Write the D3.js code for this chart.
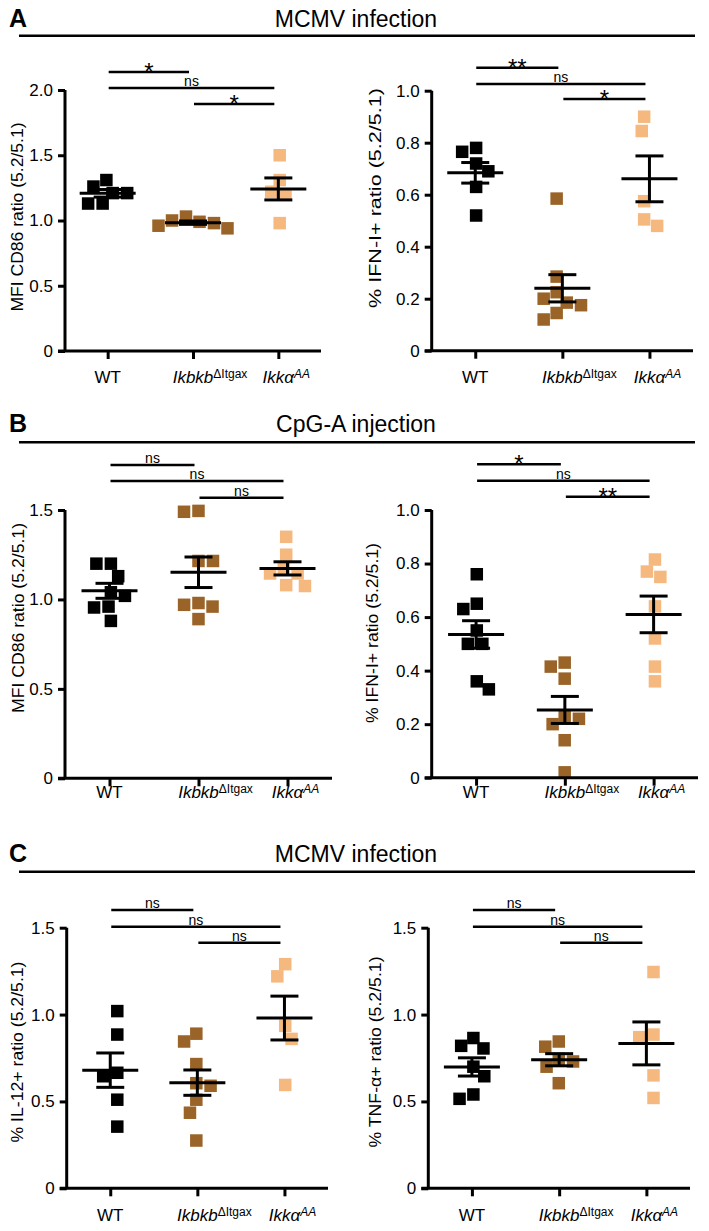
<!DOCTYPE html>
<html><head><meta charset="utf-8">
<script src="https://cdn.jsdelivr.net/npm/d3@7"></script>
<style>
body{margin:0;background:#fff}
svg{display:block}
text{font-family:"Liberation Sans",Arial,Helvetica,sans-serif;fill:#000}
</style>
</head><body>
<svg id="c" width="709" height="1231"></svg>
<script>
// ---------------- DATA ----------------
const groups = ["WT", "Ikbkb", "Ikka"];
const groupColors = ["#000000", "#9a6428", "#f5b97f"];

const ticks20 = [0, 0.5, 1.0, 1.5, 2.0];
const ticks10 = [0, 0.2, 0.4, 0.6, 0.8, 1.0];
const ticks15 = [0, 0.5, 1.0, 1.5];

const sectionLetters = ["A", "B", "C"];
const sectionTitles = ["MCMV infection", "CpG-A injection", "MCMV infection"];

const yLabelCD86 = "MFI CD86 ratio (5.2/5.1)";
const yLabelIFN = "% IFN-I+ ratio (5.2/5.1)";
const yLabelIL12 = "% IL-12+ ratio (5.2/5.1)";
const yLabelTNF = "% TNF-\u03B1+ ratio (5.2/5.1)";

// A: MCMV, CD86
const mcmvCD86_WT    = [1.31, 1.26, 1.21, 1.21, 1.13, 1.13];
const mcmvCD86_Ikbkb = [1.03, 1.00, 0.99, 0.98, 0.96, 0.94];
const mcmvCD86_Ikka  = [1.50, 1.31, 1.22, 1.20, 0.98];
const sigMcmvCD86 = ["*", "ns", "*"];
// A: MCMV, IFN-I
const mcmvIFN_WT    = [0.78, 0.765, 0.72, 0.69, 0.63, 0.52];
const mcmvIFN_Ikbkb = [0.585, 0.285, 0.225, 0.20, 0.185, 0.175, 0.145, 0.12];
const mcmvIFN_Ikka  = [0.90, 0.845, 0.575, 0.505, 0.48];
const sigMcmvIFN = ["**", "ns", "*"];
// B: CpG-A, CD86
const cpgCD86_WT    = [1.20, 1.20, 1.13, 1.04, 1.02, 0.96, 0.955, 0.88];
const cpgCD86_Ikbkb = [1.495, 1.49, 1.215, 1.215, 0.98, 0.97, 0.96, 0.89];
const cpgCD86_Ikka  = [1.35, 1.25, 1.17, 1.145, 1.145, 1.08, 1.075];
const sigCpgCD86 = ["ns", "ns", "ns"];
// B: CpG-A, IFN-I
const cpgIFN_WT    = [0.76, 0.65, 0.63, 0.55, 0.50, 0.50, 0.36, 0.33];
const cpgIFN_Ikbkb = [0.43, 0.415, 0.37, 0.23, 0.22, 0.20, 0.14, 0.02];
const cpgIFN_Ikka  = [0.815, 0.77, 0.75, 0.64, 0.52, 0.415, 0.36];
const sigCpgIFN = ["*", "ns", "**"];
// C: MCMV, IL-12
const mcmvIL12_WT    = [1.02, 0.885, 0.665, 0.645, 0.51, 0.355];
const mcmvIL12_Ikbkb = [0.89, 0.845, 0.715, 0.605, 0.59, 0.51, 0.435, 0.275];
const mcmvIL12_Ikka  = [1.29, 1.22, 0.935, 0.86, 0.595];
const sigMcmvIL12 = ["ns", "ns", "ns"];
// C: MCMV, TNF-a
const mcmvTNF_WT    = [0.865, 0.82, 0.805, 0.70, 0.645, 0.54, 0.515];
const mcmvTNF_Ikbkb = [0.845, 0.815, 0.745, 0.73, 0.70, 0.605];
const mcmvTNF_Ikka  = [1.245, 0.885, 0.87, 0.65, 0.52];
const sigMcmvTNF = ["ns", "ns", "ns"];

const sigPairs = [[0, 1], [0, 2], [1, 2]];

// ---------------- LAYOUT ----------------
const headerLayout = [
  {base: 27, line: 35.7},
  {base: 432, line: 442.3},
  {base: 862, line: 871.7}
];
const panelLayout = [
  {x0: 65,    x1: 321, yTop: 90,    yBot: 351,    labX: 17,  labY: 217,  labLen: 189, sigY: [72, 88, 104],        xLabDy: 32},
  {x0: 431.7, x1: 693, yTop: 90.7,  yBot: 350.7,  labX: 375, labY: 198,  labLen: 220, sigY: [67.7, 84, 99],        xLabDy: 32},
  {x0: 65,    x1: 332, yTop: 510,   yBot: 778.3,  labX: 18,  labY: 618,  labLen: 190, sigY: [465, 481, 497.7],     xLabDy: 20},
  {x0: 431.7, x1: 698, yTop: 510,   yBot: 777.7,  labX: 372, labY: 633,  labLen: 180, sigY: [464.3, 480.7, 496.7], xLabDy: 20},
  {x0: 66.7,  x1: 328, yTop: 927.7, yBot: 1188.3, labX: 17,  labY: 1052, labLen: 181, sigY: [910, 926.7, 942.7],   xLabDy: 33},
  {x0: 428.3, x1: 690, yTop: 927.7, yBot: 1188.3, labX: 375, labY: 1052, labLen: 191, sigY: [910, 926.7, 942.7],   xLabDy: 33}
];
const panelData = [
  {series: [mcmvCD86_WT, mcmvCD86_Ikbkb, mcmvCD86_Ikka], ticks: ticks20, label: yLabelCD86, sig: sigMcmvCD86},
  {series: [mcmvIFN_WT, mcmvIFN_Ikbkb, mcmvIFN_Ikka],    ticks: ticks10, label: yLabelIFN,  sig: sigMcmvIFN},
  {series: [cpgCD86_WT, cpgCD86_Ikbkb, cpgCD86_Ikka],    ticks: ticks15, label: yLabelCD86, sig: sigCpgCD86},
  {series: [cpgIFN_WT, cpgIFN_Ikbkb, cpgIFN_Ikka],       ticks: ticks10, label: yLabelIFN,  sig: sigCpgIFN},
  {series: [mcmvIL12_WT, mcmvIL12_Ikbkb, mcmvIL12_Ikka], ticks: ticks15, label: yLabelIL12, sig: sigMcmvIL12},
  {series: [mcmvTNF_WT, mcmvTNF_Ikbkb, mcmvTNF_Ikka],    ticks: ticks15, label: yLabelTNF,  sig: sigMcmvTNF}
];

const svg = d3.select("#c");
const MARK = 12.5;

// ---------------- HEADERS ----------------
headerLayout.forEach((h, i) => {
  svg.append("text").attr("x", 9).attr("y", h.base)
    .attr("font-size", 25).attr("font-weight", "bold").text(sectionLetters[i]);
  svg.append("text").attr("x", 356).attr("y", h.base)
    .attr("font-size", 23).attr("text-anchor", "middle").text(sectionTitles[i]);
  svg.append("line").attr("x1", 19).attr("x2", 695).attr("y1", h.line).attr("y2", h.line)
    .attr("stroke", "#000").attr("stroke-width", 2.5);
});

// ---------------- BEESWARM ----------------
function swarm(values, y, d) {
  const pts = values.map(v => ({v, y: y(v), x: 0})).sort((a, b) => a.y - b.y);
  const placed = [];
  let bal = 0;
  for (const p of pts) {
    const cands = [0];
    for (const q of placed) {
      const dy = Math.abs(q.y - p.y);
      if (dy < d) { const dx = Math.sqrt(d * d - dy * dy); cands.push(q.x + dx, q.x - dx); }
    }
    cands.sort((a, b) => {
      const da = Math.abs(a) - Math.abs(b);
      if (Math.abs(da) > 0.01) return da;
      return bal >= 0 ? a - b : b - a;
    });
    for (const c of cands) {
      if (placed.every(q => (q.x - c) ** 2 + (q.y - p.y) ** 2 >= d * d - 0.01)) { p.x = c; break; }
    }
    bal += p.x;
    placed.push(p);
  }
  const ext = d3.extent(placed, p => p.x);
  const shift = (ext[0] + ext[1]) / 2;
  placed.forEach(p => p.x -= shift);
  return placed;
}

// ---------------- PANELS ----------------
panelLayout.forEach((L, pi) => {
  const D = panelData[pi];
  const g = svg.append("g");
  const yMax = d3.max(D.ticks);
  const y = d3.scaleLinear().domain([0, yMax]).range([L.yBot, L.yTop]);
  const x = d3.scalePoint().domain(groups).range([L.x0, L.x1]).padding(0.5);

  // points
  D.series.forEach((vals, gi) => {
    const pts = swarm(vals, y, 14.5);
    g.selectAll(null).data(pts).enter().append("rect")
      .attr("x", p => x(groups[gi]) + p.x - MARK / 2)
      .attr("y", p => p.y - MARK / 2)
      .attr("width", MARK).attr("height", MARK)
      .attr("fill", groupColors[gi]);
  });

  // mean +- SEM
  D.series.forEach((vals, gi) => {
    const m = d3.mean(vals);
    const sem = d3.deviation(vals) / Math.sqrt(vals.length);
    const cx = x(groups[gi]);
    const st = s => s.attr("stroke", "#000").attr("stroke-width", 3);
    st(g.append("line").attr("x1", cx - 28).attr("x2", cx + 28).attr("y1", y(m)).attr("y2", y(m)));
    st(g.append("line").attr("x1", cx).attr("x2", cx).attr("y1", y(m + sem)).attr("y2", y(m - sem)));
    st(g.append("line").attr("x1", cx - 14).attr("x2", cx + 14).attr("y1", y(m + sem)).attr("y2", y(m + sem)));
    st(g.append("line").attr("x1", cx - 14).attr("x2", cx + 14).attr("y1", y(m - sem)).attr("y2", y(m - sem)));
  });

  // y axis
  const yAxis = d3.axisLeft(y).tickValues(D.ticks).tickSize(7).tickPadding(5)
    .tickFormat(v => v === 0 ? "0" : d3.format(".1f")(v));
  const ya = g.append("g").attr("transform", `translate(${L.x0},0)`).call(yAxis);
  ya.select(".domain").attr("d", `M0,${L.yTop}V${L.yBot}`).attr("stroke-width", 3);
  ya.selectAll(".tick line").attr("stroke-width", 3);
  ya.selectAll(".tick text").attr("font-size", 17).attr("fill", "#000")
    .style("font-family", '"Liberation Sans",Arial,sans-serif');

  // x axis
  const xAxis = d3.axisBottom(x).tickSize(8).tickFormat("");
  const xa = g.append("g").attr("transform", `translate(0,${L.yBot})`).call(xAxis);
  xa.select(".domain").attr("d", `M${L.x0 - 7},0H${L.x1}`).attr("stroke-width", 3);
  xa.selectAll(".tick line").attr("stroke-width", 3);

  // x labels
  groups.forEach((grp, gi) => {
    const cx = x(grp);
    const t = g.append("text").attr("y", L.yBot + L.xLabDy).attr("font-size", 17);
    let base;
    if (gi === 0) {
      base = t.append("tspan").text("WT");
    } else if (gi === 1) {
      base = t.append("tspan").attr("font-style", "italic").text("Ikbkb");
      t.append("tspan").attr("font-size", 12).attr("dy", -5).text("\u0394Itgax");
    } else {
      base = t.append("tspan").attr("font-style", "italic").text("Ikk\u03B1");
      t.append("tspan").attr("font-size", 12).attr("font-style", "italic").attr("dy", -5).text("AA");
    }
    const w = base.node().getComputedTextLength();
    t.attr("x", cx - w / 2);
  });

  // y label
  g.append("text").attr("transform", `translate(${L.labX},${L.labY}) rotate(-90)`)
    .attr("text-anchor", "middle").attr("dominant-baseline", "central")
    .attr("font-size", 17).attr("textLength", L.labLen).attr("lengthAdjust", "spacingAndGlyphs")
    .text(D.label);

  // significance bars
  sigPairs.forEach(([a, b], si) => {
    const xa1 = x(groups[a]) + 1, xb1 = x(groups[b]) - 4;
    const yy = L.sigY[si];
    g.append("line").attr("x1", xa1).attr("x2", xb1).attr("y1", yy).attr("y2", yy)
      .attr("stroke", "#000").attr("stroke-width", 2.5);
    const lab = D.sig[si];
    const isStar = lab.indexOf("*") >= 0;
    g.append("text").attr("x", (xa1 + xb1) / 2).attr("y", isStar ? yy + 8 : yy - 2)
      .attr("text-anchor", "middle").attr("font-size", isStar ? 24 : 14).text(lab);
  });
});
</script>
</body></html>
